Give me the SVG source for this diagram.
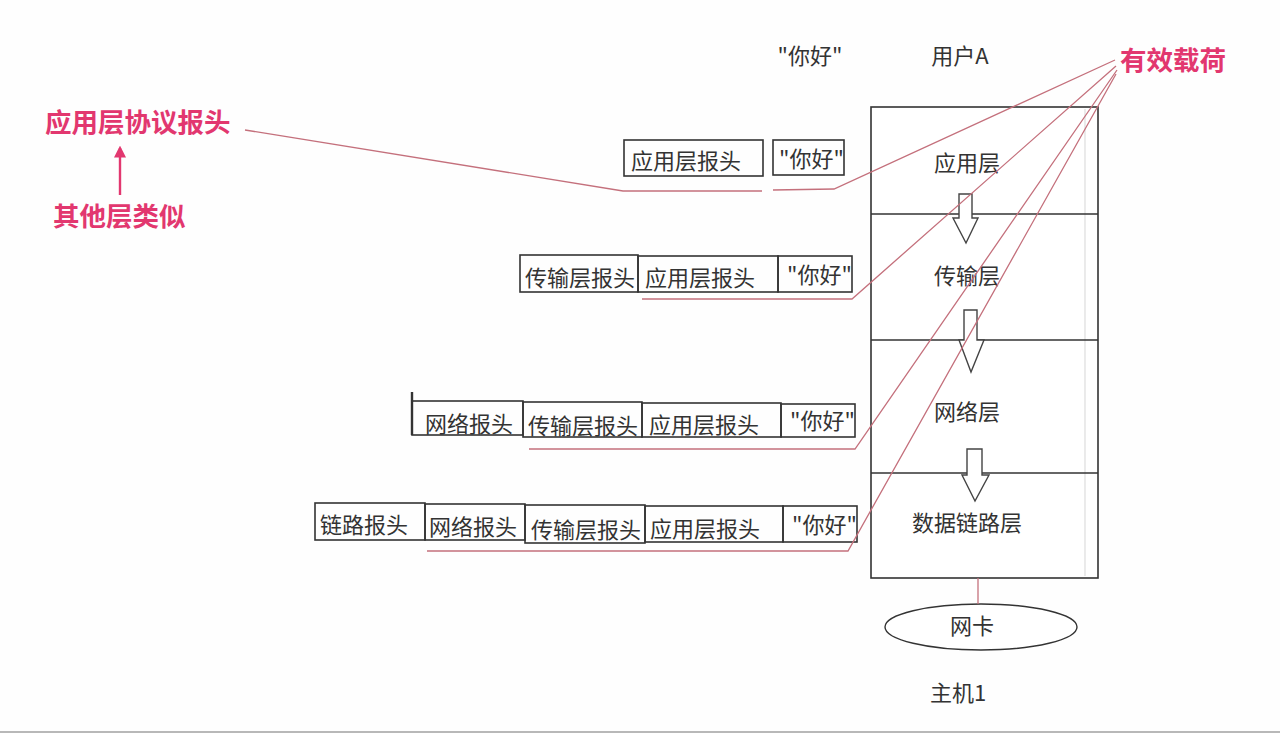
<svg xmlns="http://www.w3.org/2000/svg" width="1280" height="733" viewBox="0 0 1280 733">
<style>
.t{font-family:"Noto Sans CJK SC","Liberation Sans",sans-serif;fill:#333;font-size:22px;}
.p{font-family:"Noto Sans CJK SC","Liberation Sans",sans-serif;fill:#e2376f;font-size:26.5px;font-weight:bold;}
.box{fill:none;stroke:#333;stroke-width:1.6;}
.lay{fill:#fff;stroke:#333;stroke-width:1.6;}
.arw{fill:#fff;stroke:#444;stroke-width:1.4;stroke-linejoin:miter;}
.pl{fill:none;stroke:#c4707c;stroke-width:1.3;}
</style>
<defs>
<marker id="ah" viewBox="0 0 10 10" refX="8" refY="5" markerWidth="5" markerHeight="5" orient="auto">
<path d="M0,0 L10,5 L0,10 z" fill="#e2376f"/>
</marker>
</defs>
<rect width="1280" height="733" fill="#fefefe"/>
<line x1="0" y1="732" x2="1280" y2="732" stroke="#b8b8b8" stroke-width="2"/>

<g id="stack">
<rect class="lay" x="871" y="107" width="227" height="471"/>
<line x1="1085" y1="109" x2="1085" y2="576" stroke="#ddd" stroke-width="1.2"/>
<line class="box" x1="871" y1="214" x2="1098" y2="214"/>
<line class="box" x1="871" y1="340" x2="1098" y2="340"/>
<line class="box" x1="871" y1="473" x2="1098" y2="473"/>
<text class="t" x="967" y="171" text-anchor="middle">应用层</text>
<text class="t" x="967" y="284" text-anchor="middle">传输层</text>
<text class="t" x="967" y="420" text-anchor="middle">网络层</text>
<text class="t" x="967" y="531" text-anchor="middle">数据链路层</text>
<path class="arw" d="M959,194 H972 V218 H978 L966,243 L953,218 H959 Z"/>
<path class="arw" d="M964,310 H977 V340 H984 L971,372 L959,340 H964 Z"/>
<path class="arw" d="M967,449 H982 V475 H989 L975,501 L962,475 H967 Z"/>
</g>

<g id="top-labels">
<text class="t" x="810" y="64" text-anchor="middle" font-size="20">"你好"</text>
<text class="t" x="960" y="64" text-anchor="middle" font-size="20">用户A</text>
</g>

<g id="nic">
<ellipse cx="981" cy="627" rx="96" ry="23" fill="#fff" stroke="#333" stroke-width="1.4"/>
<text class="t" x="972" y="634" text-anchor="middle" font-size="21">网卡</text>
<text class="t" x="958" y="701" text-anchor="middle" font-size="21">主机1</text>
</g>

<g id="row1">
<rect class="box" x="624" y="140" width="139" height="36"/>
<text class="t" x="631" y="169">应用层报头</text>
<rect class="box" x="773" y="140" width="71" height="35"/>
<text class="t" x="779" y="167" font-size="21">"你好"</text>
</g>

<g id="row2">
<rect class="box" x="520" y="255" width="118" height="37"/>
<text class="t" x="525" y="286">传输层报头</text>
<rect class="box" x="638" y="256" width="140" height="36"/>
<text class="t" x="645" y="286">应用层报头</text>
<rect class="box" x="778" y="256" width="74" height="36"/>
<text class="t" x="787" y="283" font-size="21">"你好"</text>
</g>

<g id="row3">
<rect class="box" x="412" y="401" width="111" height="34"/>
<line x1="412" y1="392" x2="412" y2="435" stroke="#333" stroke-width="2.4"/>
<text class="t" x="425" y="432">网络报头</text>
<rect class="box" x="523" y="402" width="119" height="35"/>
<text class="t" x="528" y="434">传输层报头</text>
<rect class="box" x="642" y="403" width="139" height="34"/>
<text class="t" x="649" y="433">应用层报头</text>
<rect class="box" x="781" y="404" width="74" height="33"/>
<text class="t" x="790" y="429" font-size="21">"你好"</text>
</g>

<g id="row4">
<rect class="box" x="315" y="503" width="110" height="37"/>
<text class="t" x="320" y="533">链路报头</text>
<rect class="box" x="425" y="504" width="100" height="36"/>
<text class="t" x="429" y="535">网络报头</text>
<rect class="box" x="525" y="505" width="120" height="38"/>
<text class="t" x="531" y="538">传输层报头</text>
<rect class="box" x="645" y="506" width="138" height="36"/>
<text class="t" x="650" y="537">应用层报头</text>
<rect class="box" x="783" y="506" width="74" height="36"/>
<text class="t" x="792" y="533" font-size="21">"你好"</text>
</g>

<g id="annotations">
<text class="p" x="45" y="132">应用层协议报头</text>
<text class="p" x="53" y="226">其他层类似</text>
<text class="p" x="1120" y="70">有效载荷</text>
</g>

<g id="connectors">
<line x1="120" y1="195" x2="120" y2="148" stroke="#e2376f" stroke-width="2.4" marker-end="url(#ah)"/>
<polyline class="pl" points="245,130 623,191 762,191"/>
<polyline class="pl" points="773,190 834,189 1115,60"/>
<polyline class="pl" points="642,299 852,299 1116,66"/>
<polyline class="pl" points="529,449 855,449 1117,70"/>
<polyline class="pl" points="427,551 848,551 1116,74"/>
<line class="pl" x1="978" y1="578" x2="978" y2="604"/>
</g>
</svg>
